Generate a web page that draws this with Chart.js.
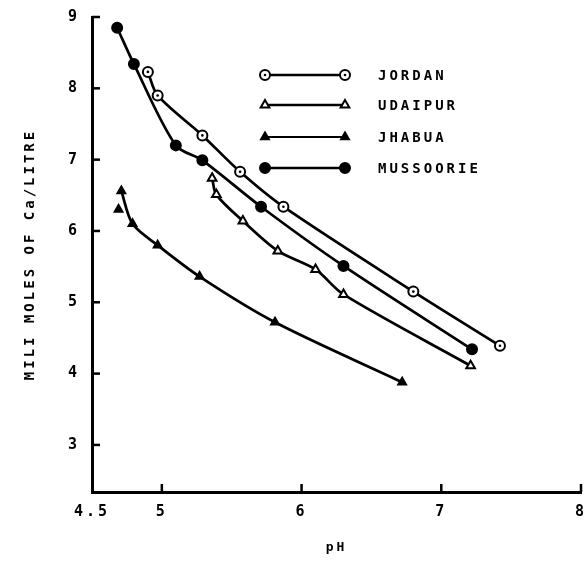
<!DOCTYPE html>
<html>
<head>
<meta charset="utf-8">
<script src="https://cdn.jsdelivr.net/npm/chart.js@4/dist/chart.umd.min.js"></script>
<style>
    body { margin: 0; background: #fff; }
    canvas { display: block; }
</style>
</head>
<body>
<canvas id="phChart" width="588" height="573"></canvas>
<script>
// values (pH vs milli moles of Ca per litre)
const jordanPh = [4.90, 4.97, 5.29, 5.56, 5.87, 6.80, 7.42];
const jordanCa = [8.23, 7.90, 7.34, 6.83, 6.34, 5.15, 4.39];

const udaipurPh = [5.36, 5.39, 5.58, 5.83, 6.10, 6.30, 7.21];
const udaipurCa = [6.74, 6.51, 6.14, 5.72, 5.46, 5.11, 4.11];

const jhabuaPh = [4.71, 4.79, 4.97, 5.27, 5.81, 6.72];
const jhabuaCa = [6.56, 6.10, 5.80, 5.36, 4.72, 3.88];
// lone triangle left of the JHABUA curve
const jhabuaExtraPh = [4.69];
const jhabuaExtraCa = [6.30];

const mussooriePh = [4.68, 4.80, 5.10, 5.29, 5.71, 6.30, 7.22];
const mussoorieCa = [8.85, 8.34, 7.20, 6.99, 6.34, 5.51, 4.34];

const xTicks = [4.5, 5, 6, 7, 8];
const yTicks = [3, 4, 5, 6, 7, 8, 9];

const seriesNames = ['JORDAN', 'UDAIPUR', 'JHABUA', 'MUSSOORIE'];

const FONT = "'DejaVu Sans Mono', monospace";

function toPoints(xs, ys) {
    return xs.map((x, i) => ({x: x, y: ys[i]}));
}

function series(label, xs, ys, style, fill, radius) {
    return {
        label: label,
        data: toPoints(xs, ys),
        borderColor: '#000',
        borderWidth: 2.7,
        pointStyle: style,
        pointRadius: radius,
        pointBackgroundColor: fill,
        pointBorderColor: '#000',
        pointBorderWidth: 2,
        tension: 0.3,
        fill: false
    };
}

const datasets = [
    series(seriesNames[0], jordanPh, jordanCa, 'circle', '#fff', 5),
    series(seriesNames[1], udaipurPh, udaipurCa, 'triangle', '#fff', 5),
    series(seriesNames[2], jhabuaPh, jhabuaCa, 'triangle', '#000', 4.5),
    series(seriesNames[3], mussooriePh, mussoorieCa, 'circle', '#000', 5),
    Object.assign(series(seriesNames[2], jhabuaExtraPh, jhabuaExtraCa, 'triangle', '#000', 4.5), {showLine: false})
];

// wide typewriter-like spacing for every text
const spacing = {
    id: 'spacing',
    beforeDraw(chart) {
        chart.ctx.letterSpacing = '3px';
    }
};

// ticks pointing into the plot, a dot in each open circle, and the legend
const innerTicks = {
    id: 'innerTicks',
    afterDatasetsDraw(chart) {
        const ctx = chart.ctx;
        const {x, y} = chart.scales;
        ctx.save();
        ctx.strokeStyle = '#000';
        ctx.lineWidth = 2.5;
        x.ticks.forEach(t => {
            const px = x.getPixelForValue(t.value);
            if (t.value === x.min) return;
            ctx.beginPath();
            ctx.moveTo(px, y.bottom);
            ctx.lineTo(px, y.bottom - 8);
            ctx.stroke();
        });
        y.ticks.forEach(t => {
            const py = y.getPixelForValue(t.value);
            ctx.beginPath();
            ctx.moveTo(x.left, py);
            ctx.lineTo(x.left + 8, py);
            ctx.stroke();
        });

        ctx.fillStyle = '#000';
        chart.getDatasetMeta(0).data.forEach(p => {
            ctx.beginPath();
            ctx.arc(p.x, p.y, 1.3, 0, Math.PI * 2);
            ctx.fill();
        });

        // legend
        const x0 = 265, x1 = 345, textX = 378;
        const rows = [75, 105, 137, 168];
        for (let i = 0; i < 4; i++) {
            const ds = chart.data.datasets[i];
            const ly = rows[i];
            ctx.strokeStyle = '#000';
            ctx.lineWidth = i === 2 ? 2 : 2.5;
            ctx.beginPath();
            ctx.moveTo(x0, ly);
            ctx.lineTo(x1, ly);
            ctx.stroke();
            [x0, x1].forEach(px => {
                ctx.fillStyle = ds.pointBackgroundColor;
                ctx.strokeStyle = '#000';
                ctx.lineWidth = 2;
                Chart.helpers.drawPoint(ctx, {
                    pointStyle: ds.pointStyle,
                    radius: ds.pointRadius,
                    rotation: 0,
                    borderWidth: 2
                }, px, ly);
                if (i === 0) {
                    ctx.fillStyle = '#000';
                    ctx.beginPath();
                    ctx.arc(px, ly, 1.3, 0, Math.PI * 2);
                    ctx.fill();
                }
            });
            ctx.fillStyle = '#000';
            ctx.font = 'bold 14px ' + FONT;
            ctx.textBaseline = 'middle';
            ctx.textAlign = 'left';
            ctx.fillText(ds.label, textX, ly + 1);
        }
        ctx.restore();
    }
};

new Chart(document.querySelector('#phChart'), {
    type: 'line',
    data: {datasets: datasets},
    options: {
        responsive: false,
        animation: false,
        layout: {padding: {top: 17, right: 7, bottom: 6, left: 0}},
        plugins: {
            legend: {display: false},
            tooltip: {enabled: false}
        },
        scales: {
            x: {
                type: 'linear',
                min: 4.5,
                max: 8,
                afterBuildTicks: scale => { scale.ticks = xTicks.map(v => ({value: v})); },
                afterFit: scale => {
                    scale.height = 573 - 492 - 6;
                    scale.paddingLeft = 0;
                    scale.paddingRight = 0;
                },
                grid: {drawOnChartArea: false, drawTicks: false},
                border: {display: true, color: '#000', width: 3},
                ticks: {
                    color: '#000',
                    padding: 11,
                    font: {family: FONT, size: 15, weight: 'bold'},
                    callback: v => String(v)
                },
                title: {
                    display: true,
                    text: 'pH',
                    color: '#000',
                    padding: {top: 0, bottom: 12},
                    font: {family: FONT, size: 13, weight: 'bold'}
                }
            },
            y: {
                type: 'linear',
                min: 2.34,
                max: 9,
                afterBuildTicks: scale => { scale.ticks = yTicks.map(v => ({value: v})); },
                afterFit: scale => {
                    scale.width = 92;
                    scale.paddingTop = 0;
                    scale.paddingBottom = 0;
                },
                grid: {drawOnChartArea: false, drawTicks: false},
                border: {display: true, color: '#000', width: 3},
                ticks: {
                    color: '#000',
                    padding: 12,
                    font: {family: FONT, size: 15, weight: 'bold'}
                },
                title: {
                    display: true,
                    text: 'MILI MOLES OF Ca/LITRE',
                    color: '#000',
                    padding: {top: 22, bottom: 0},
                    font: {family: FONT, size: 14, weight: 'bold'}
                }
            }
        }
    },
    plugins: [spacing, innerTicks]
});
</script>
</body>
</html>
